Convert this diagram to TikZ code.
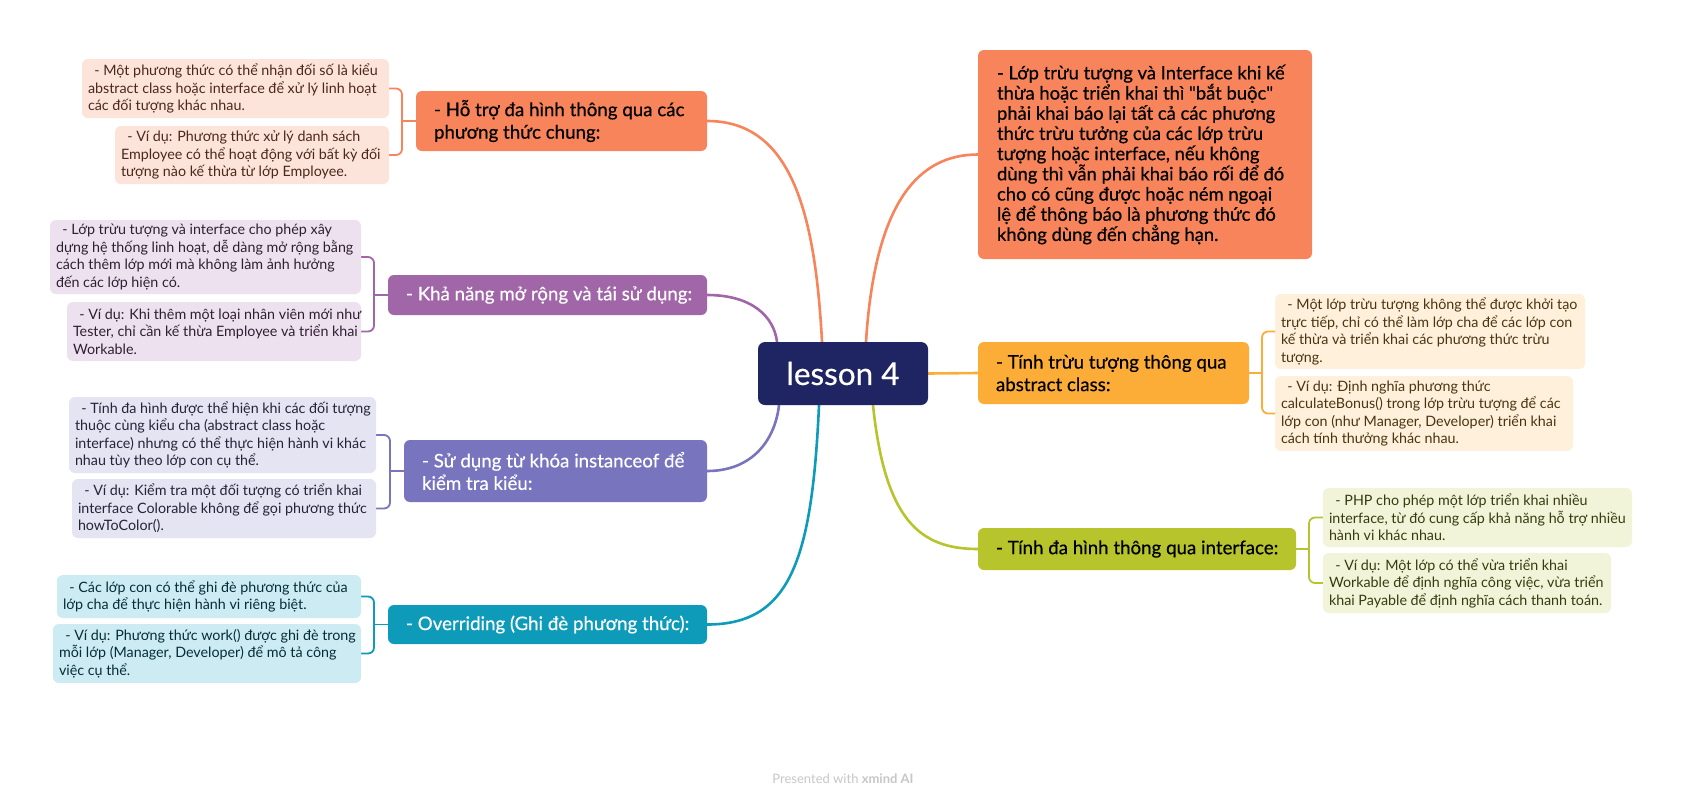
\documentclass[tikz,border=0pt]{standalone}
\usepackage{fontspec}
\setmainfont{Lato}
\newfontfamily\subfnt{Lato}
\newfontfamily\topfnt[FakeBold=0.4]{Lato}
\definecolor{cA}{HTML}{F7845A}\definecolor{cAl}{HTML}{FDE4DA}
\definecolor{cB}{HTML}{A066A8}\definecolor{cBl}{HTML}{EEE1EF}
\definecolor{cC}{HTML}{7874BD}\definecolor{cCl}{HTML}{E5E4F2}
\definecolor{cD}{HTML}{0E9BBA}\definecolor{cDl}{HTML}{CDEBF2}
\definecolor{cE}{HTML}{FBAD38}\definecolor{cEl}{HTML}{FEF0DA}
\definecolor{cF}{HTML}{B7C42C}\definecolor{cFl}{HTML}{F1F4D9}
\definecolor{navy}{HTML}{1F2563}
\pgfdeclarelayer{bg}\pgfsetlayers{bg,main}
\newcommand\bx[8]{%
 \pgfmathsetmacro\bxw{#4-#2}\pgfmathsetmacro\bxh{#5-#3}%
 \pgfmathsetmacro\bxx{(#2+#4)/2}\pgfmathsetmacro\bxy{(#3+#5)/2}%
 \node[#6, minimum width=\bxw pt, minimum height=\bxh pt, inner sep=0pt] (#1) at (\bxx,\bxy) {};
 \node[#7, anchor=west, inner sep=0pt, align=left] (#1t) at (#1.west) {#8};}
\tikzset{
 topicbox/.style={rounded corners=6pt},
 subbox/.style={rounded corners=6pt},
 topictext/.style={font=\topfnt\fontsize{18.7}{22.5}\selectfont, xshift=18pt},
 subtext/.style={font=\subfnt\fontsize{14.3}{17.5}\selectfont, xshift=6pt},
 link/.style={line width=2.6pt, line cap=round},
 blink/.style={line width=1.8pt, rounded corners=6pt},
}
\newcommand\ind{\hspace*{0.45em}}
\begin{document}
\begin{tikzpicture}[x=1pt,y=-1pt]
\begin{pgfonlayer}{bg}
\fill[white] (0,0) rectangle (1684,804);
\end{pgfonlayer}
\useasboundingbox (0,0) rectangle (1684,804);
% center
\node[fill=navy, rounded corners=7pt, minimum width=170pt, minimum height=63pt, text=white, font=\topfnt\fontsize{31.5}{36}\selectfont] (C) at (843,373.5) {lesson 4};
% left branch 1
\bx{LA}{416}{91}{707}{151}{topicbox, fill=cA}{topictext, text=black}{- Hỗ trợ đa hình thông qua các\\phương thức chung:}
\bx{LAa}{82}{59}{389}{118}{subbox, fill=cAl}{subtext, text=cA!30!black}{\ind- Một phương thức có thể nhận đối số là kiểu\\abstract class hoặc interface để xử lý linh hoạt\\các đối tượng khác nhau.}
\bx{LAb}{115}{126}{389}{184}{subbox, fill=cAl}{subtext, text=cA!30!black}{\ind- Ví dụ: Phương thức xử lý danh sách\\Employee có thể hoạt động với bất kỳ đối\\tượng nào kế thừa từ lớp Employee.}
% left branch 2
\bx{LB}{388}{275}{707}{315}{topicbox, fill=cB}{topictext, text=white}{- Khả năng mở rộng và tái sử dụng:}
\bx{LBa}{50}{220}{361}{294}{subbox, fill=cBl}{subtext, text=cB!30!black}{\ind- Lớp trừu tượng và interface cho phép xây\\dựng hệ thống linh hoạt, dễ dàng mở rộng bằng\\cách thêm lớp mới mà không làm ảnh hưởng\\đến các lớp hiện có.}
\bx{LBb}{67}{302}{361}{361}{subbox, fill=cBl}{subtext, text=cB!30!black}{\ind- Ví dụ: Khi thêm một loại nhân viên mới như\\Tester, chỉ cần kế thừa Employee và triển khai\\Workable.}
% left branch 3
\bx{LC}{404}{440}{707}{502}{topicbox, fill=cC}{topictext, text=white}{- Sử dụng từ khóa instanceof để\\kiểm tra kiểu:}
\bx{LCa}{69}{397}{376}{473}{subbox, fill=cCl}{subtext, text=cC!30!black}{\ind- Tính đa hình được thể hiện khi các đối tượng\\thuộc cùng kiểu cha (abstract class hoặc\\interface) nhưng có thể thực hiện hành vi khác\\nhau tùy theo lớp con cụ thể.}
\bx{LCb}{72}{479}{376}{538}{subbox, fill=cCl}{subtext, text=cC!30!black}{\ind- Ví dụ: Kiểm tra một đối tượng có triển khai\\interface Colorable không để gọi phương thức\\howToColor().}
% left branch 4
\bx{LD}{388}{605}{707}{644}{topicbox, fill=cD}{topictext, text=white}{- Overriding (Ghi đè phương thức):}
\bx{LDa}{57}{575}{361}{618}{subbox, fill=cDl}{subtext, text=cD!30!black}{\ind- Các lớp con có thể ghi đè phương thức của\\lớp cha để thực hiện hành vi riêng biệt.}
\bx{LDb}{53}{624}{361}{683}{subbox, fill=cDl}{subtext, text=cD!30!black}{\ind- Ví dụ: Phương thức work() được ghi đè trong\\mỗi lớp (Manager, Developer) để mô tả công\\việc cụ thể.}
% right branch 1
\bx{RA}{978}{50}{1312}{259}{topicbox, fill=cA}{font=\topfnt\fontsize{18.4}{20.2}\selectfont, xshift=19pt, text=black}{- Lớp trừu tượng và Interface khi kế\\thừa hoặc triển khai thì "bắt buộc"\\phải khai báo lại tất cả các phương\\thức trừu tưởng của các lớp trừu\\tượng hoặc interface, nếu không\\dùng thì vẫn phải khai báo rối để đó\\cho có cũng được hoặc ném ngoại\\lệ để thông báo là phương thức đó\\không dùng đến chẳng hạn.}
% right branch 2
\bx{RB}{978}{342}{1249}{404}{topicbox, fill=cE}{topictext, text=black}{- Tính trừu tượng thông qua\\abstract class:}
\bx{RBa}{1275}{294}{1585}{369}{subbox, fill=cEl}{subtext, text=cE!30!black}{\ind- Một lớp trừu tượng không thể được khởi tạo\\trực tiếp, chỉ có thể làm lớp cha để các lớp con\\kế thừa và triển khai các phương thức trừu\\tượng.}
\bx{RBb}{1275}{376}{1573}{451}{subbox, fill=cEl}{subtext, text=cE!30!black}{\ind- Ví dụ: Định nghĩa phương thức\\calculateBonus() trong lớp trừu tượng để các\\lớp con (như Manager, Developer) triển khai\\cách tính thưởng khác nhau.}
% right branch 3
\bx{RC}{978}{528}{1296}{570}{topicbox, fill=cF}{topictext, text=black}{- Tính đa hình thông qua interface:}
\bx{RCa}{1323}{488}{1632}{547}{subbox, fill=cFl}{subtext, text=cF!30!black}{\ind- PHP cho phép một lớp triển khai nhiều\\interface, từ đó cung cấp khả năng hỗ trợ nhiều\\hành vi khác nhau.}
\bx{RCb}{1323}{553}{1611}{613}{subbox, fill=cFl}{subtext, text=cF!30!black}{\ind- Ví dụ: Một lớp có thể vừa triển khai\\Workable để định nghĩa công việc, vừa triển\\khai Payable để định nghĩa cách thanh toán.}
% footer
\node[text=black!22, font=\fontsize{13}{15}\selectfont] (ft) at (843,779) {Presented with \textbf{xmind AI}};
% bracket x positions
\coordinate (kA) at (402,0);
\coordinate (kB) at (374,0);
\coordinate (kC) at (390,0);
\coordinate (kD) at (374,0);
\coordinate (kE) at (1262,0);
\coordinate (kF) at (1309,0);
\begin{pgfonlayer}{bg}
\draw[link, cA] ([xshift=-21pt]C.north) .. controls +(-7,-132) and +(83,0) .. (LA.east);
\draw[link, cA] ([xshift=23pt]C.north) .. controls +(9,-142) and +(-58,0) .. (RA.west);
\draw[link, cB] ([xshift=-66pt]C.north) .. controls +(-3,-25) and +(45,0) .. (LB.east);
\draw[link, cC] ([xshift=-64pt]C.south) .. controls +(-4,35) and +(45,0) .. (LC.east);
\draw[link, cD] ([xshift=-24pt]C.south) .. controls +(-7,155) and +(83,0) .. (LD.east);
\draw[link, cE] (C.east) -- (RB.west);
\draw[link, cF] ([xshift=30pt]C.south) .. controls +(12,115) and +(-58,0) .. (RC.west);
% brackets
\draw[blink, cA] (LAa.east) -- (LAa.east -| kA) -- (LAb.east -| kA) -- (LAb.east);
\draw[blink, cA] (LA.west) -- (LA.west -| kA);
\draw[blink, cB] (LBa.east) -- (LBa.east -| kB) -- (LBb.east -| kB) -- (LBb.east);
\draw[blink, cB] (LB.west) -- (LB.west -| kB);
\draw[blink, cC] (LCa.east) -- (LCa.east -| kC) -- (LCb.east -| kC) -- (LCb.east);
\draw[blink, cC] (LC.west) -- (LC.west -| kC);
\draw[blink, cD] (LDa.east) -- (LDa.east -| kD) -- (LDb.east -| kD) -- (LDb.east);
\draw[blink, cD] (LD.west) -- (LD.west -| kD);
\draw[blink, cE] (RBa.west) -- (RBa.west -| kE) -- (RBb.west -| kE) -- (RBb.west);
\draw[blink, cE] (RB.east) -- (RB.east -| kE);
\draw[blink, cF] (RCa.west) -- (RCa.west -| kF) -- (RCb.west -| kF) -- (RCb.west);
\draw[blink, cF] (RC.east) -- (RC.east -| kF);
\end{pgfonlayer}
\end{tikzpicture}
\end{document}
